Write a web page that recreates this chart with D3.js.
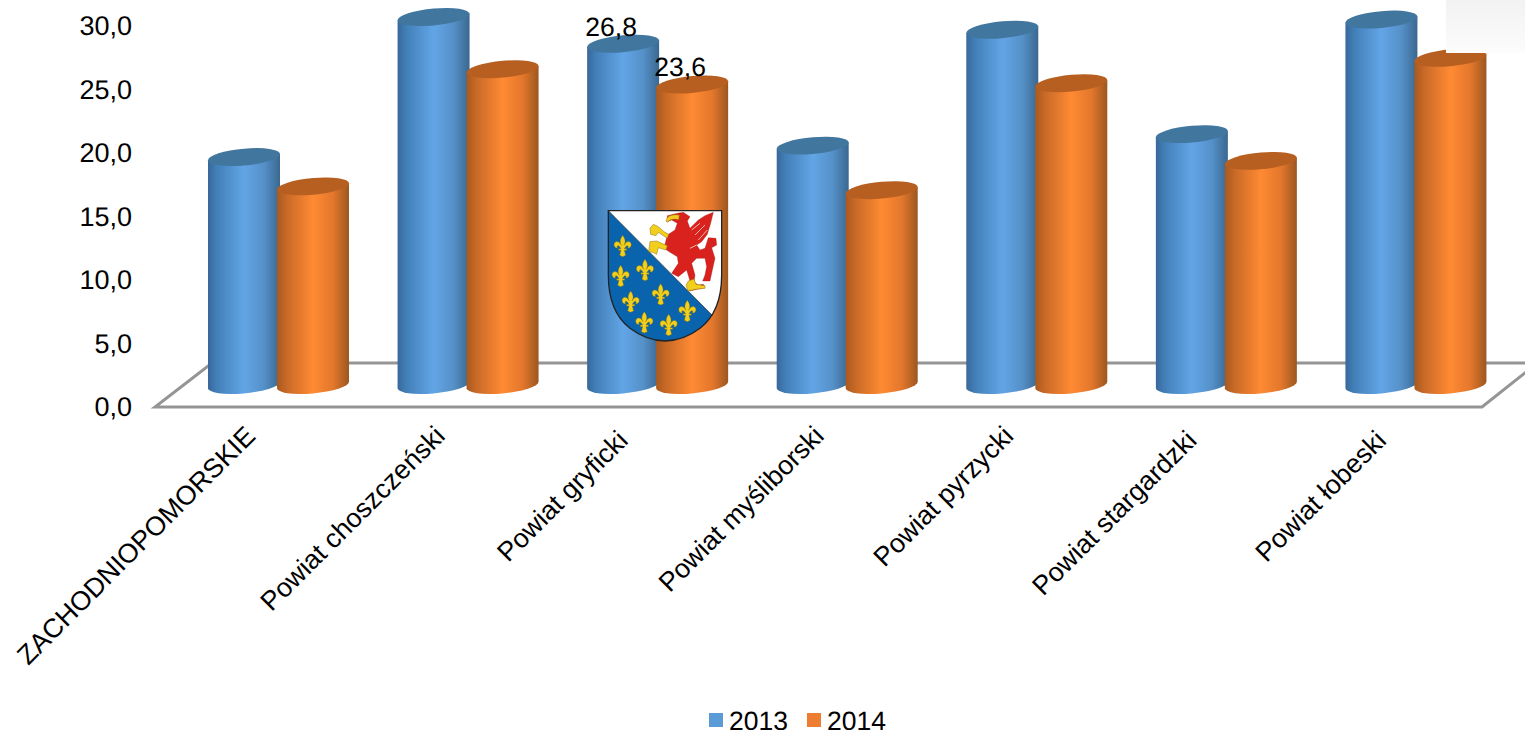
<!DOCTYPE html>
<html><head><meta charset="utf-8">
<script src="https://cdn.jsdelivr.net/npm/d3@7"></script>
<style>html,body{margin:0;padding:0;background:#fff;overflow:hidden}svg{display:block}text{font-family:"Liberation Sans",Arial,sans-serif;fill:#000;text-rendering:geometricPrecision}</style>
</head><body><svg id="c" width="1525" height="730"></svg>
<script>
const categories=["ZACHODNIOPOMORSKIE","Powiat choszczeński","Powiat gryficki","Powiat myśliborski","Powiat pyrzycki","Powiat stargardzki","Powiat łobeski"];
const series=["2013","2014"];
const values2013=[17.9,28.9,26.8,18.8,27.9,19.7,28.7];
const values2014=[15.6,24.8,23.6,15.3,23.7,17.6,25.7];
const labelled=["Powiat gryficki"];
const ticks=[0,5,10,15,20,25,30];

const svg=d3.select("#c");
const x0=d3.scaleBand().domain(categories).range([184,1511]).paddingInner(0).paddingOuter(0);
const x1=d3.scaleBand().domain(series).range([25.5,163.5]);
const rx=36, ry=8.4, skew=-5;
const axisY=d3.scaleLinear().domain([0,30]).range([407,26]);
const barY=d3.scaleLinear().domain([0,30]).range([385,3]);
const fmt=d=>d3.format(".1f")(d).replace(".",",");
const cx=d=>x0(d.c)+x1(d.s)+x1.bandwidth()/2;

const defs=svg.append("defs");
function grad(id,stops){
  const g=defs.append("linearGradient").attr("id",id).attr("x1",0).attr("x2",1).attr("y1",0).attr("y2",0);
  stops.forEach(s=>g.append("stop").attr("offset",s[0]).attr("stop-color",s[1]));
}
grad("g2013",[[0,"#38689a"],[.12,"#427fb8"],[.5,"#62a5e6"],[.78,"#5590c8"],[1,"#3a6890"]]);
grad("g2014",[[0,"#a9591f"],[.14,"#c96a27"],[.5,"#ff8a33"],[.78,"#e3772c"],[1,"#9c5720"]]);
const topCol={"2013":"#41769f","2014":"#b65f21"};
const legendCol={"2013":"#5b9bd5","2014":"#ed7d31"};

// floor
const floor=svg.append("g").attr("fill","none").attr("stroke","#959595").attr("stroke-width",3);
floor.append("path").attr("d",d3.line()([[1530,363],[212,363],[155,407],[1482,407],[1530,369]]));

// axis
const ax=svg.append("g").attr("transform","translate(132,0)")
  .call(d3.axisLeft(axisY).tickValues(ticks).tickSize(0).tickPadding(0).tickFormat(fmt));
ax.select(".domain").remove();
ax.selectAll("text").attr("font-size",27).attr("font-family",'"Liberation Sans"').attr("fill","#000").attr("dy",".33em");

// cylinders
const rows=categories.map((c,i)=>({c,i}));
const cat=svg.append("g").selectAll("g").data(rows).join("g");
const bars=cat.selectAll("g").data(d=>series.map(s=>({c:d.c,s,v:(s==="2013"?values2013:values2014)[d.i]}))).join("g")
  .attr("transform",d=>`translate(${cx(d)},0) skewY(${skew})`);
bars.append("path").attr("fill",d=>`url(#g${d.s})`)
  .attr("d",d=>{const t=barY(d.v),b=barY(0);
    return `M${-rx},${t}L${-rx},${b}A${rx},${ry} 0 0 0 ${rx},${b}L${rx},${t}Z`;});
bars.append("ellipse").attr("rx",rx).attr("ry",ry).attr("cy",d=>barY(d.v)).attr("fill",d=>topCol[d.s]);

// data labels
const lab=[];
categories.forEach((c,i)=>{ if(labelled.includes(c)) series.forEach(s=>lab.push({c,s,v:(s==="2013"?values2013:values2014)[i]})); });
svg.append("g").selectAll("text").data(lab).join("text")
  .attr("x",d=>cx(d)-12).attr("y",d=>barY(d.v)-8)
  .attr("text-anchor","middle").attr("font-size",26.5).text(d=>fmt(d.v));

// category labels (the reference sets three of them slightly lower-left)
const shifted=new Set([categories[2],categories[5],categories[6]]);
svg.append("g").selectAll("text").data(categories).join("text")
  .attr("text-anchor","end").attr("font-size",26.8)
  .attr("transform",d=>{
    const px=x0(d)+x0.bandwidth()/2-22-(shifted.has(d)?6.5:0);
    const py=shifted.has(d)?442:437.5;
    return `translate(${px},${py}) rotate(-45)`;})
  .text(d=>d);

// legend
const leg=svg.append("g").selectAll("g").data(series).join("g")
  .attr("transform",(d,i)=>`translate(${709+i*98},0)`);
leg.append("rect").attr("y",713).attr("width",14).attr("height",14).attr("fill",d=>legendCol[d]);
leg.append("text").attr("x",20).attr("y",729.5).attr("font-size",26.5).text(d=>d);

// pale panel top right
const pg=defs.append("linearGradient").attr("id","pale").attr("x1",0).attr("x2",0).attr("y1",0).attr("y2",1);
pg.append("stop").attr("offset",0).attr("stop-color","#f2f2f2");
pg.append("stop").attr("offset",1).attr("stop-color","#fcfcfc");
svg.append("rect").attr("x",1446).attr("y",0).attr("width",79).attr("height",53).attr("fill","url(#pale)");

// coat of arms (decoration), local coordinates at 3x
const crest=svg.append("g").attr("transform","translate(590,195) scale(0.3333)");
const shield="M55,47L395,47L395,240Q395,350 330,400Q280,438 225,438Q170,438 120,400Q55,350 55,240Z";
crest.append("path").attr("d",shield).attr("fill","#fff");
crest.append("clipPath").attr("id","sc").append("path").attr("d",shield);
crest.append("path").attr("clip-path","url(#sc)").attr("d","M55,47L400,395L400,450L40,450L40,47Z").attr("fill","#0a64ad");
crest.append("path").attr("d","M55,47L368,362").attr("stroke","#222").attr("stroke-width",2).attr("fill","none");
crest.append("path").attr("d",shield).attr("fill","none").attr("stroke","#222").attr("stroke-width",4);
// griffin
crest.append("path").attr("fill","#d9211d").attr("stroke","#a01512").attr("stroke-width",1)
 .attr("d","M232,62L262,55L280,52L300,65L292,78L300,100L325,75L345,62L370,52L362,85L352,118L335,140L320,150L330,165L345,160L355,128L378,130L380,150L365,158L375,190L365,235L360,258L338,258L345,240L350,215L345,190L320,190L305,205L315,240L312,262L325,270L340,268L345,278L320,283L300,288L290,270L300,258L290,225L265,245L245,235L265,205L262,185L240,172L222,160L232,120L255,105L262,85L245,75L232,80Z");
crest.append("g").attr("stroke","#fff").attr("stroke-width",2).attr("fill","none")
 .selectAll("path").data(["M305,105L330,85","M315,120L345,90","M325,135L352,105","M300,160L320,150"]).join("path").attr("d",d=>d);
// beak and talons
const yellow="#f2cf1d";
crest.append("g").attr("fill",yellow).attr("stroke","#8a6d10").attr("stroke-width",1.5).selectAll("path")
 .data(["M228,78Q232,55 268,60L266,74Q245,68 232,82Z",
  "M232,130L205,112L198,122L182,118L180,100L190,88L205,95L222,110L236,118Z",
  "M228,165L205,158L200,178L188,172L176,170L178,155L180,140L200,138L222,148L232,152Z",
  "M295,258L312,252L318,268L345,272L345,280L318,283L295,288L288,272Z"]).join("path").attr("d",d=>d);
// fleurs-de-lis
const fleurs=[[98,153],[92,243],[165,225],[122,320],[212,298],[163,382],[236,390],[292,348]];
const fleur="M0,-32C9,-20 9,-10 4,-2C8,-12 20,-18 25,-8C28,0 22,8 15,6C19,0 14,-4 9,2L5,8L12,8L12,13L5,13L9,28L0,32L-9,28L-5,13L-12,13L-12,8L-5,8L-9,2C-14,-4 -19,0 -15,6C-22,8 -28,0 -25,-8C-20,-18 -8,-12 -4,-2C-9,-10 -9,-20 0,-32Z";
crest.append("g").selectAll("path").data(fleurs).join("path")
 .attr("transform",d=>`translate(${d[0]},${d[1]})`).attr("d",fleur).attr("fill",yellow).attr("stroke","#7c6a12").attr("stroke-width",1.2);
</script></body></html>
